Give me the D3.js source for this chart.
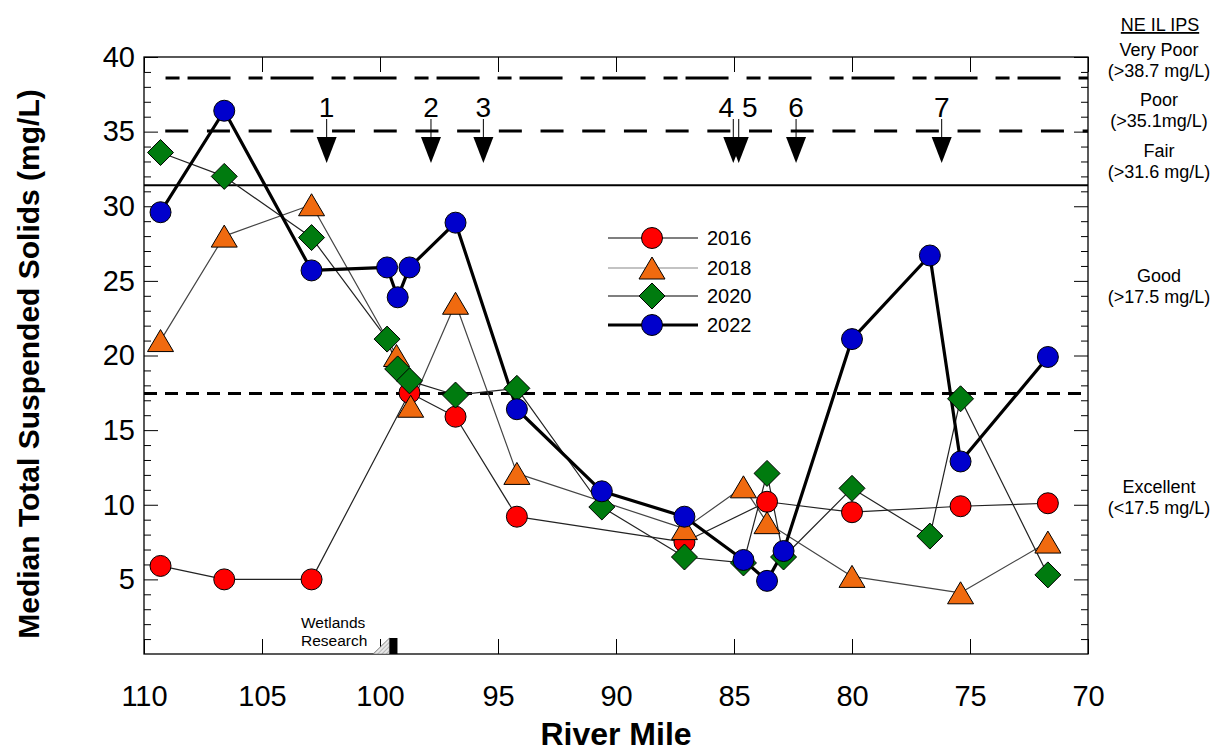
<!DOCTYPE html>
<meta charset="utf-8">
<style>
  body { margin: 0; padding: 0; background: #fff; }
  svg text { font-family: "Liberation Sans", Arial, sans-serif; fill: #000; }
  .axis path.domain { display: none; }
  .axis line { stroke: #000; stroke-width: 1; }
</style>
<body>
<script src="https://cdn.jsdelivr.net/npm/d3@7"></script>
<script>

// river mile / median TSS (mg/L), one pair of arrays per survey year
var miles2016 = [109.3, 106.6, 102.9, 98.75, 96.8, 94.2, 87.1, 83.6, 80.0, 75.4, 71.7];
var tss2016   = [5.9, 5.0, 5.0, 17.5, 15.9, 9.2, 7.5, 10.2, 9.5, 9.9, 10.1];

var miles2018 = [109.3, 106.6, 102.9, 99.3, 98.7, 96.8, 94.2, 87.1, 84.6, 83.6, 80.0, 75.4, 71.7];
var tss2018   = [21.0, 28.0, 30.1, 20.0, 16.6, 23.5, 12.1, 8.4, 11.2, 8.8, 5.2, 4.1, 7.5];

var miles2020 = [109.3, 106.6, 102.9, 99.7, 99.25, 98.75, 96.8, 94.2, 90.6, 87.1, 84.6, 83.6, 82.9, 80.0, 76.7, 75.4, 71.7];
var tss2020   = [33.6, 32.0, 27.9, 21.1, 19.1, 18.3, 17.35, 17.8, 9.85, 6.5, 6.1, 12.1, 6.5, 11.1, 7.9, 17.1, 5.3];

var miles2022 = [109.3, 106.6, 102.9, 99.7, 99.25, 98.75, 96.8, 94.2, 90.6, 87.1, 84.6, 83.6, 82.9, 80.0, 76.7, 75.4, 71.7];
var tss2022   = [29.6, 36.4, 25.7, 25.9, 23.9, 25.9, 28.9, 16.4, 10.9, 9.2, 6.3, 4.9, 6.9, 21.1, 26.7, 12.9, 19.9];

// NE IL IPS class limits and their labels
var ipsLimits = [38.6, 35.05, 31.4, 17.45];
var ipsClasses = ["Very Poor", "Poor", "Fair", "Good", "Excellent"];
var ipsRanges = ["(>38.7 mg/L)", "(>35.1mg/L)", "(>31.6 mg/L)", "(>17.5 mg/L)", "(<17.5 mg/L)"];
var ipsLabelY = [56, 106, 157, 282, 493];

// numbered dam / structure arrows
var arrowMiles = [102.26, 97.84, 95.62, 85.03, 84.8, 82.37, 76.2];
var arrowLabels = ["1", "2", "3", "4", "5", "6", "7"];

// wetlands research site
var wetlandRamp = [100.3, 99.6];
var wetlandBlock = [99.6, 99.26];

var xTicks = [110, 105, 100, 95, 90, 85, 80, 75, 70];
var yTicks = [5, 10, 15, 20, 25, 30, 35, 40];

var width = 1231, height = 753;

var x = d3.scaleLinear().domain([110, 70]).range([144, 1088]);
var y = d3.scaleLinear().domain([0, 40]).range([654, 57]);

var svg = d3.select("body").append("svg")
    .attr("width", width)
    .attr("height", height);

var defs = svg.append("defs");
var hatch = defs.append("pattern")
    .attr("id", "hatch")
    .attr("width", 3).attr("height", 3)
    .attr("patternUnits", "userSpaceOnUse")
    .attr("patternTransform", "rotate(45)");
hatch.append("rect").attr("width", 3).attr("height", 3).attr("fill", "#e8e8e8");
hatch.append("line").attr("x1", 0).attr("y1", 0).attr("x2", 0).attr("y2", 3)
    .attr("stroke", "#888").attr("stroke-width", 1);

// axes - ticks point inward on all four sides
var minorY = d3.range(1, 40).filter(function(v) { return v % 5 != 0; });

svg.append("g").attr("class", "axis")
    .attr("transform", "translate(0,654)")
    .call(d3.axisBottom(x).tickValues(xTicks).tickSizeInner(-15).tickSizeOuter(0).tickPadding(31))
    .selectAll("text").style("font-size", "29px");

svg.append("g").attr("class", "axis")
    .attr("transform", "translate(0,57)")
    .call(d3.axisTop(x).tickValues(xTicks).tickSizeInner(-15).tickSizeOuter(0).tickFormat(""));

svg.append("g").attr("class", "axis")
    .attr("transform", "translate(144,0)")
    .call(d3.axisLeft(y).tickValues(yTicks).tickSizeInner(-14).tickSizeOuter(0).tickPadding(9))
    .selectAll("text").style("font-size", "29px");

svg.append("g").attr("class", "axis")
    .attr("transform", "translate(144,0)")
    .call(d3.axisLeft(y).tickValues(minorY).tickSizeInner(-7).tickSizeOuter(0).tickFormat(""));

svg.append("g").attr("class", "axis")
    .attr("transform", "translate(1088,0)")
    .call(d3.axisRight(y).tickValues(yTicks).tickSizeInner(-14).tickSizeOuter(0).tickFormat(""));

svg.append("g").attr("class", "axis")
    .attr("transform", "translate(1088,0)")
    .call(d3.axisRight(y).tickValues(minorY).tickSizeInner(-7).tickSizeOuter(0).tickFormat(""));

svg.append("rect")
    .attr("x", 144).attr("y", 57)
    .attr("width", 1088 - 144).attr("height", 654 - 57)
    .attr("fill", "none").attr("stroke", "#000").attr("stroke-width", 1.3);

// IPS class lines
var limitStyles = [
  {dash: "43,18,14,8", offset: 60.7, w: 3, from: 109.1},
  {dash: "23,18.7", offset: 0, w: 3, from: 109.1},
  {dash: null, offset: 0, w: 2, from: 110},
  {dash: "13,8", offset: 0, w: 3, from: 110}
];
ipsLimits.forEach(function(v, i) {
  var s = limitStyles[i];
  svg.append("line")
      .attr("x1", x(s.from)).attr("x2", x(70))
      .attr("y1", y(v)).attr("y2", y(v))
      .attr("stroke", "#000")
      .attr("stroke-width", s.w)
      .attr("stroke-dasharray", s.dash)
      .attr("stroke-dashoffset", s.offset);
});

// arrows
var arrowG = svg.append("g");
arrowMiles.forEach(function(m, i) {
  var ax = x(m);
  arrowG.append("line")
      .attr("x1", ax).attr("x2", ax).attr("y1", 119).attr("y2", 138)
      .attr("stroke", "#000").attr("stroke-width", 1);
  arrowG.append("path")
      .attr("d", "M" + (ax - 10) + ",137L" + (ax + 10) + ",137L" + ax + ",163Z")
      .attr("fill", "#000");
  var dx = 0;
  if (arrowLabels[i] == "4") dx = -7;
  if (arrowLabels[i] == "5") dx = 11;
  arrowG.append("text")
      .attr("x", ax + dx).attr("y", 117)
      .attr("text-anchor", "middle")
      .style("font-size", "28px")
      .text(arrowLabels[i]);
});

// wetlands research marker
svg.append("path")
    .attr("d", "M" + x(wetlandRamp[0]) + ",654L" + x(wetlandRamp[1]) + ",638L" + x(wetlandRamp[1]) + ",654Z")
    .attr("fill", "url(#hatch)").attr("stroke", "#666").attr("stroke-width", 0.6);
svg.append("rect")
    .attr("x", x(wetlandBlock[0])).attr("y", 638)
    .attr("width", x(wetlandBlock[1]) - x(wetlandBlock[0])).attr("height", 16)
    .attr("fill", "#000");
svg.append("text").attr("x", 301).attr("y", 628).style("font-size", "15.5px").text("Wetlands");
svg.append("text").attr("x", 301).attr("y", 646).style("font-size", "15.5px").text("Research");

// series
var triPath = "M0,-11L13,11L-13,11Z";
var diaPath = "M0,-13L13,0L0,13L-13,0Z";

var series = [
  {name: "2016", miles: miles2016, vals: tss2016, color: "#ff0000", shape: "circle", line: "#222", lw: 1.2},
  {name: "2018", miles: miles2018, vals: tss2018, color: "#f06a0f", shape: "tri", line: "#444", lw: 1.2},
  {name: "2020", miles: miles2020, vals: tss2020, color: "#007b0f", shape: "dia", line: "#222", lw: 1.2},
  {name: "2022", miles: miles2022, vals: tss2022, color: "#0000cc", shape: "circle", line: "#000", lw: 3.2}
];

var line = d3.line()
    .x(function(d) { return x(d[0]); })
    .y(function(d) { return y(d[1]); });

function drawMarker(g, shape, color, cx, cy) {
  if (shape == "circle") {
    g.append("circle").attr("cx", cx).attr("cy", cy).attr("r", 10.5)
        .attr("fill", color).attr("stroke", "#000").attr("stroke-width", 1);
  } else {
    g.append("path").attr("d", shape == "tri" ? triPath : diaPath)
        .attr("transform", "translate(" + cx + "," + cy + ")")
        .attr("fill", color).attr("stroke", "#000").attr("stroke-width", 1);
  }
}

series.forEach(function(s) {
  var pts = s.miles.map(function(m, i) { return [m, s.vals[i]]; });
  svg.append("path")
      .attr("d", line(pts))
      .attr("fill", "none")
      .attr("stroke", s.line)
      .attr("stroke-width", s.lw)
      .attr("stroke-linejoin", "round");
});

series.forEach(function(s) {
  var g = svg.append("g");
  s.miles.forEach(function(m, i) {
    drawMarker(g, s.shape, s.color, x(m), y(s.vals[i]));
  });
});

// legend
var legendY = [238, 268, 296, 325];
series.forEach(function(s, i) {
  var g = svg.append("g");
  g.append("line")
      .attr("x1", 608).attr("x2", 698).attr("y1", legendY[i]).attr("y2", legendY[i])
      .attr("stroke", s.name == "2018" ? "#888" : "#000")
      .attr("stroke-width", s.name == "2022" ? 3.2 : 1.2);
  drawMarker(g, s.shape, s.color, 652, legendY[i]);
  g.append("text")
      .attr("x", 707).attr("y", legendY[i] + 7)
      .style("font-size", "20px")
      .text(s.name);
});

// IPS labels on the right
svg.append("text")
    .attr("x", 1160).attr("y", 31)
    .attr("text-anchor", "middle")
    .style("font-size", "18px")
    .style("text-decoration", "underline")
    .text("NE IL IPS");

ipsClasses.forEach(function(c, i) {
  svg.append("text")
      .attr("x", 1159).attr("y", ipsLabelY[i])
      .attr("text-anchor", "middle")
      .style("font-size", "18px")
      .text(c);
  svg.append("text")
      .attr("x", 1159).attr("y", ipsLabelY[i] + 21)
      .attr("text-anchor", "middle")
      .style("font-size", "18px")
      .text(ipsRanges[i]);
});

// axis titles
svg.append("text")
    .attr("x", 616).attr("y", 745)
    .attr("text-anchor", "middle")
    .style("font-size", "32px")
    .style("font-weight", "bold")
    .text("River Mile");

svg.append("text")
    .attr("transform", "translate(39,364) rotate(-90)")
    .attr("text-anchor", "middle")
    .style("font-size", "30px")
    .style("font-weight", "bold")
    .text("Median Total Suspended Solids (mg/L)");

</script>
